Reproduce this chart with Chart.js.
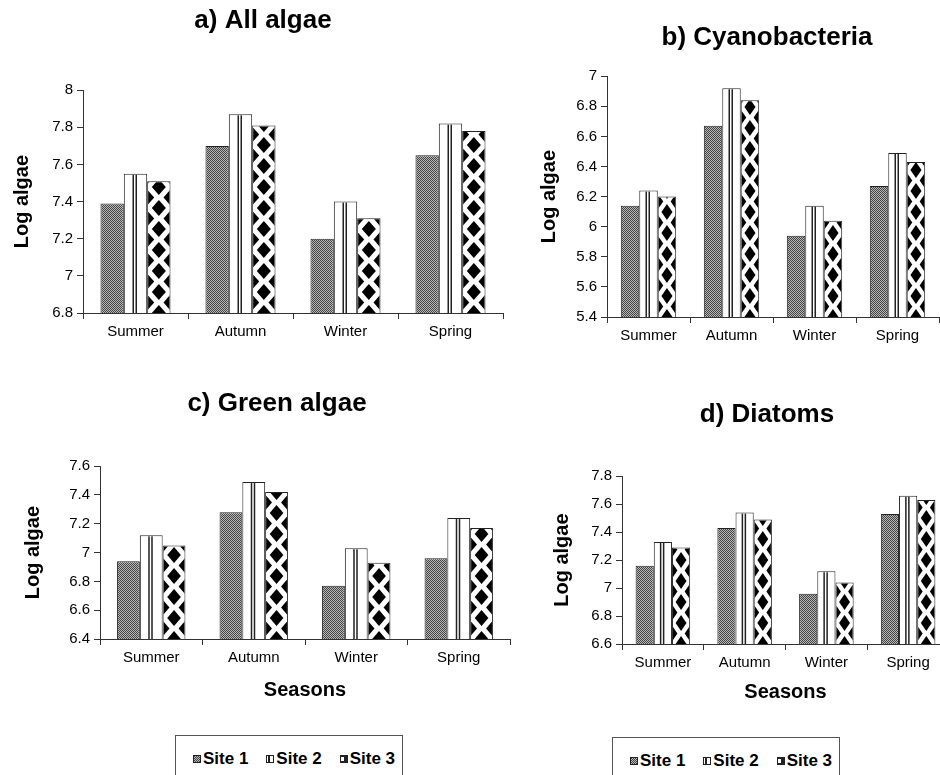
<!DOCTYPE html>
<html>
<head>
<meta charset="utf-8">
<script src="https://cdn.jsdelivr.net/npm/chart.js@4.4.0/dist/chart.umd.min.js"></script>
<style>
	body { margin: 0; width: 940px; height: 775px; overflow: hidden; background: #fff; position: relative; }
	canvas.panel { position: absolute; }
	.legend {
		position: absolute; width: 228px; height: 60px; box-sizing: border-box;
		border: 1px solid #555; padding: 12px 0 0 17px; white-space: nowrap;
		font: bold 17px "Liberation Sans", Arial, sans-serif; line-height: 20px; color: #000;
	}
	.legend .item { display: inline-flex; align-items: center; margin-right: 18px; }
	.legend canvas { margin-right: 2px; }
</style>
</head>
<body>
<canvas id="Panel_A" class="panel" width="510" height="353" style="left:0px;top:0px"></canvas>
<canvas id="Panel_B" class="panel" width="420" height="357" style="left:530px;top:0px"></canvas>
<canvas id="Panel_C" class="panel" width="520" height="332" style="left:0px;top:370px"></canvas>
<canvas id="Panel_D" class="panel" width="430" height="334" style="left:530px;top:370px"></canvas>

<div class="legend" style="left:175px;top:735px">
	<span class="item"><canvas class="sw" width="8" height="8"></canvas>Site 1</span><span class="item"><canvas class="sw" width="8" height="8"></canvas>Site 2</span><span class="item"><canvas class="sw" width="8" height="8"></canvas>Site 3</span>
</div>
<div class="legend" style="left:612px;top:737px">
	<span class="item"><canvas class="sw" width="8" height="8"></canvas>Site 1</span><span class="item"><canvas class="sw" width="8" height="8"></canvas>Site 2</span><span class="item"><canvas class="sw" width="8" height="8"></canvas>Site 3</span>
</div>

<script>
const seasons = ['Summer', 'Autumn', 'Winter', 'Spring'];
const siteNames = ['Site 1', 'Site 2', 'Site 3'];

// a) All algae
const allSite1 = [7.39, 7.70, 7.20, 7.65];
const allSite2 = [7.55, 7.87, 7.40, 7.82];
const allSite3 = [7.51, 7.81, 7.31, 7.78];
const allRange = [6.8, 8];

// b) Cyanobacteria
const cyanoSite1 = [6.14, 6.67, 5.94, 6.27];
const cyanoSite2 = [6.24, 6.92, 6.14, 6.49];
const cyanoSite3 = [6.20, 6.84, 6.04, 6.43];
const cyanoRange = [5.4, 7];

// c) Green algae
const greenSite1 = [6.94, 7.28, 6.77, 6.96];
const greenSite2 = [7.12, 7.49, 7.03, 7.24];
const greenSite3 = [7.05, 7.42, 6.93, 7.17];
const greenRange = [6.4, 7.6];

// d) Diatoms
const diatomSite1 = [7.16, 7.43, 6.96, 7.53];
const diatomSite2 = [7.33, 7.54, 7.12, 7.66];
const diatomSite3 = [7.29, 7.49, 7.04, 7.63];
const diatomRange = [6.6, 7.8];

const yStep = 0.2;

Chart.defaults.font.family = '"Liberation Sans", Arial, sans-serif';
Chart.defaults.font.size = 15;
Chart.defaults.color = '#000';

// grey checker used for site 1
function Checker_Pattern() {
	const c = document.createElement('canvas');
	c.width = 2; c.height = 2;
	const g = c.getContext('2d');
	g.fillStyle = '#b8b8b8'; g.fillRect(0, 0, 2, 2);
	g.fillStyle = '#444'; g.fillRect(0, 0, 1, 1); g.fillRect(1, 1, 1, 1);
	return g.createPattern(c, 'repeat');
}
const checker = Checker_Pattern();

// title sits off-centre in the original, nudge it
const titleShift = {
	id: 'titleShift',
	afterLayout(chart, args, opts) {
		const tb = chart.titleBlock;
		if (!tb) return;
		const dx = opts.x - (tb.left + tb.right) / 2;
		tb.left += dx;
		tb.right += dx;
	}
};

// stripes for site 2, diamonds for site 3
const sitePatterns = {
	id: 'sitePatterns',
	afterDatasetsDraw(chart) {
		const ctx = chart.ctx;
		const bottom = chart.chartArea.bottom;
		chart.getDatasetMeta(1).data.forEach(bar => {
			const p = bar.getProps(['x', 'y'], true);
			const h = bottom - p.y - 1;
			ctx.save();
			ctx.fillStyle = '#222';
			ctx.fillRect(p.x - 3, p.y + 1, 1.5, h);
			ctx.fillRect(p.x, p.y + 1, 1.5, h);
			ctx.restore();
		});
		chart.getDatasetMeta(2).data.forEach(bar => {
			const p = bar.getProps(['x', 'y', 'width'], true);
			const left = p.x - p.width / 2;
			const P = 21, a = p.width * 0.3, b = 8;
			ctx.save();
			ctx.beginPath();
			ctx.rect(left + 1, p.y + 1, p.width - 2, bottom - p.y - 1);
			ctx.clip();
			ctx.fillStyle = '#000';
			for (let k = 0; bottom - k * P / 2 > p.y - P; k++) {
				const cy = bottom - k * P / 2;
				const xs = (k % 2 === 0) ? [p.x] : [left, left + p.width];
				xs.forEach(cx => {
					ctx.beginPath();
					ctx.moveTo(cx, cy - b);
					ctx.lineTo(cx + a, cy);
					ctx.lineTo(cx, cy + b);
					ctx.lineTo(cx - a, cy);
					ctx.closePath();
					ctx.fill();
				});
			}
			ctx.restore();
		});
	}
};

function Make_Panel(id, titleText, s1, s2, s3, range, lay) {
	return new Chart(document.getElementById(id).getContext('2d'), {
		type: 'bar',
		data: {
			labels: seasons,
			datasets: [
				{ label: siteNames[0], data: s1, backgroundColor: checker, borderColor: '#222', borderWidth: 1 },
				{ label: siteNames[1], data: s2, backgroundColor: '#fff', borderColor: '#222', borderWidth: 1 },
				{ label: siteNames[2], data: s3, backgroundColor: '#fff', borderColor: '#222', borderWidth: 1 },
			]
		},
		options: {
			responsive: false,
			animation: false,
			events: [], // no hover
			layout: { padding: { left: lay.padL, right: lay.padR, top: 0, bottom: 0 } },
			datasets: { bar: { barPercentage: 1, categoryPercentage: 0.667 } },
			plugins: {
				legend: { display: false },
				tooltip: { enabled: false },
				title: {
					display: true,
					text: titleText,
					color: '#000',
					font: { size: 26, weight: 'bold' },
					padding: { top: lay.tTop, bottom: lay.tBottom }
				},
				titleShift: { x: lay.titleX }
			},
			scales: {
				x: {
					offset: true,
					grid: { offset: true, drawOnChartArea: false, drawTicks: true, tickLength: 6, color: '#333' },
					border: { display: true, color: '#333' },
					ticks: { maxRotation: 0, padding: 4, font: { size: 15 } },
					title: { display: lay.xTitle, text: 'Seasons', font: { size: 20, weight: 'bold' }, padding: 0 },
					afterFit: s => { s.height = lay.xH; }
				},
				y: {
					min: range[0],
					max: range[1],
					grid: { drawOnChartArea: false, drawTicks: true, tickLength: 6, color: '#333' },
					border: { display: true, color: '#333' },
					ticks: {
						stepSize: yStep,
						padding: 4,
						font: { size: 15 },
						callback: v => String(Math.round(v * 10) / 10)
					},
					title: { display: true, text: 'Log algae', font: { size: 20, weight: 'bold' }, padding: 0 },
					afterFit: s => { s.width = lay.yW; }
				}
			}
		},
		plugins: [titleShift, sitePatterns]
	});
}

Make_Panel('Panel_A', 'a) All algae', allSite1, allSite2, allSite3, allRange,
	{ padL: 10, padR: 7, yW: 73, xH: 40, tTop: 5, tBottom: 54, titleX: 263, xTitle: false });
Make_Panel('Panel_B', 'b) Cyanobacteria', cyanoSite1, cyanoSite2, cyanoSite3, cyanoRange,
	{ padL: 7, padR: 11, yW: 70, xH: 40, tTop: 22, tBottom: 23, titleX: 237, xTitle: false });
Make_Panel('Panel_C', 'c) Green algae', greenSite1, greenSite2, greenSite3, greenRange,
	{ padL: 21, padR: 10, yW: 79, xH: 63, tTop: 18, tBottom: 47, titleX: 277, xTitle: true });
Make_Panel('Panel_D', 'd) Diatoms', diatomSite1, diatomSite2, diatomSite3, diatomRange,
	{ padL: 20, padR: 11, yW: 72, xH: 60, tTop: 29, tBottom: 46, titleX: 237, xTitle: true });

// legend swatches
document.querySelectorAll('.legend').forEach(lg => {
	lg.querySelectorAll('canvas.sw').forEach((cv, i) => {
		const g = cv.getContext('2d');
		g.fillStyle = i === 0 ? checker : (i === 2 ? '#222' : '#fff');
		g.fillRect(0, 0, 8, 8);
		if (i === 1) { g.fillStyle = '#222'; g.fillRect(2, 0, 2, 8); }
		if (i === 2) { g.fillStyle = '#fff'; g.fillRect(1, 2, 3, 4); }
		g.strokeStyle = '#222';
		g.lineWidth = 1;
		g.strokeRect(0.5, 0.5, 7, 7);
	});
});
</script>
</body>
</html>
